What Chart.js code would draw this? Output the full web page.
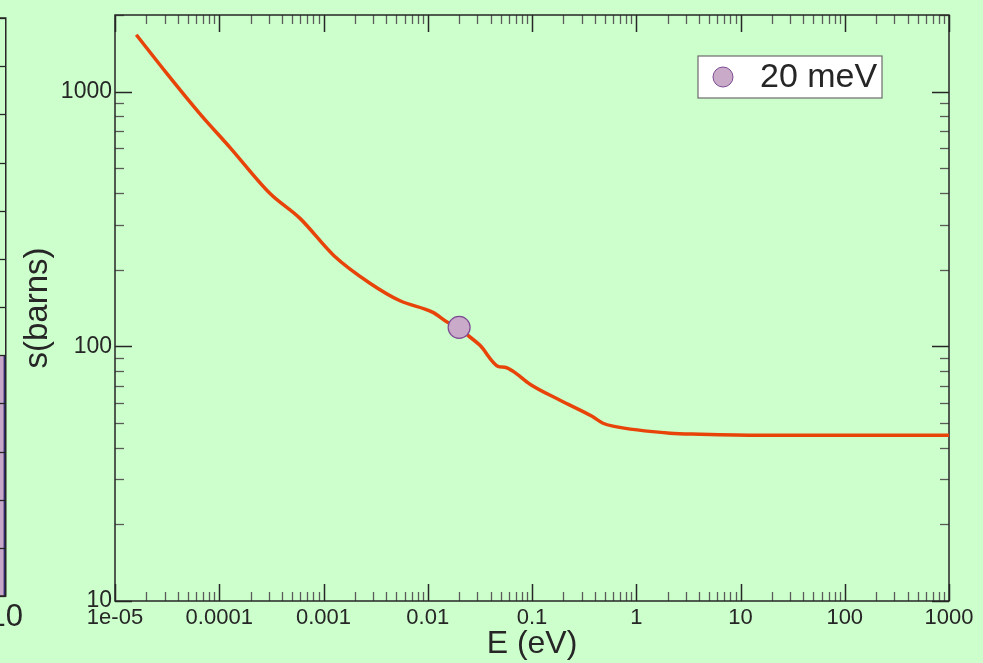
<!DOCTYPE html>
<html>
<head>
<meta charset="utf-8">
<script src="https://cdn.jsdelivr.net/npm/chart.js@4.4.1/dist/chart.umd.min.js"></script>
<style>
  html, body { margin: 0; padding: 0; background: #ccffcc; overflow: hidden; }
  #wrap { position: relative; width: 983px; height: 663px; overflow: hidden; }
  #main { position: absolute; left: 0; top: 0; }
  #side { position: absolute; left: -280px; top: 0; }
</style>
</head>
<body>
<div id="wrap">
  <canvas id="side" width="300" height="663"></canvas>
  <canvas id="main" width="983" height="663"></canvas>
</div>
<script>
// cross section vs energy
const energyEv = [1.6e-5, 3.15e-5, 6.5e-5, 1.27e-4, 3.07e-4, 5.95e-4, 1.26e-3, 2.79e-3, 5.42e-3,
  0.0112, 0.0156, 0.02, 0.0243, 0.0317, 0.0472, 0.0551, 0.0658, 0.0957, 0.186, 0.377, 0.48, 0.598,
  2.11, 4.09, 15.4, 1000];
const sigmaBarns = [1673, 1177, 820, 603, 398, 318, 227, 177, 151,
  136, 124, 118.7, 110.4, 100.9, 83.5, 82.7, 79.8, 71.0, 61.4, 53.1, 49.9, 48.6,
  45.6, 45.2, 44.8, 44.8];

// highlighted point
const markerEv = [0.02];
const markerBarns = [118.7];
const markerLabel = '20 meV';

const xMajors = [1e-5, 1e-4, 1e-3, 1e-2, 0.1, 1, 10, 100, 1000];
const xTickLabels = ['1e-05', '0.0001', '0.001', '0.01', '0.1', '1', '10', '100', '1000'];
const yMajors = [10, 100, 1000];
const yTickLabels = ['10', '100', '1000'];

// neighbouring panel, only its right edge is in frame
const sideBins = ['8-10'];
const sideCounts = [5];
const sideTicks = [0, 1, 2, 3, 4, 5, 6, 7, 8, 9, 10, 11, 12];

const FONT = '"Liberation Sans", Arial, Helvetica, sans-serif';
const INK = '#262626';

function logSteps(lo, hi) {
  const out = [];
  for (let k = Math.floor(Math.log10(lo)); k <= Math.ceil(Math.log10(hi)); k++) {
    for (let d = 1; d < 10; d++) {
      const v = d * Math.pow(10, k);
      if (v >= lo * 0.999 && v <= hi * 1.001) out.push(v);
    }
  }
  return out;
}
const isDecade = v => Math.abs(Math.log10(v) - Math.round(Math.log10(v))) < 1e-9;

// box + inward ticks on all four sides
const frameTicks = {
  id: 'frameTicks',
  beforeDatasetsDraw(chart) {
    const { ctx, chartArea: a, scales: { x, y } } = chart;
    ctx.save();
    const line = (x1, y1, x2, y2, major) => {
      ctx.strokeStyle = major ? INK : '#5a5a5a';
      ctx.lineWidth = major ? 1.5 : 1.3;
      ctx.beginPath(); ctx.moveTo(x1, y1); ctx.lineTo(x2, y2); ctx.stroke();
    };
    logSteps(x.min, x.max).forEach(v => {
      const px = Math.round(x.getPixelForValue(v)) + 0.5;
      const len = isDecade(v) ? 17 : 9;
      line(px, a.bottom, px, a.bottom - len, isDecade(v));
      line(px, a.top, px, a.top + len, isDecade(v));
    });
    logSteps(y.min, y.max).forEach(v => {
      const py = Math.round(y.getPixelForValue(v)) + 0.5;
      const len = isDecade(v) ? 17 : 9;
      line(a.left, py, a.left + len, py, isDecade(v));
      line(a.right, py, a.right - len, py, isDecade(v));
    });
    ctx.strokeStyle = INK;
    ctx.lineWidth = 1.5;
    ctx.strokeRect(a.left, a.top, a.right - a.left, a.bottom - a.top);
    ctx.restore();
  }
};

const markerKey = {
  id: 'markerKey',
  afterDraw(chart) {
    const { ctx, chartArea: a } = chart;
    const ds = chart.data.datasets[0];
    const bx = a.right - 251, by = a.top + 41, w = 184, h = 42;
    ctx.save();
    ctx.fillStyle = '#fff';
    ctx.fillRect(bx, by, w, h);
    ctx.strokeStyle = '#6b6b6b';
    ctx.lineWidth = 1.2;
    ctx.strokeRect(bx, by, w, h);
    ctx.beginPath();
    ctx.arc(bx + 25, by + h / 2, 10, 0, Math.PI * 2);
    ctx.fillStyle = ds.pointBackgroundColor;
    ctx.fill();
    ctx.strokeStyle = ds.pointBorderColor;
    ctx.lineWidth = 1;
    ctx.stroke();
    ctx.fillStyle = INK;
    ctx.font = '34px ' + FONT;
    ctx.textBaseline = 'middle';
    ctx.fillText(ds.label, bx + 62, by + h / 2 + 1);
    ctx.restore();
  }
};

new Chart(document.getElementById('main'), {
  type: 'line',
  data: {
    datasets: [
      {
        label: markerLabel, type: 'scatter', order: 0,
        data: markerEv.map((e, i) => ({ x: e, y: markerBarns[i] })),
        pointRadius: 11, pointBackgroundColor: '#c9abc9', pointBorderColor: '#7d4b93', pointBorderWidth: 1.2
      },
      {
        label: 'sigma', order: 1,
        data: energyEv.map((e, i) => ({ x: e, y: sigmaBarns[i] })),
        borderColor: '#e8440a', borderWidth: 3.5, pointRadius: 0,
        cubicInterpolationMode: 'monotone', fill: false
      }
    ]
  },
  options: {
    responsive: false, animation: false,
    layout: { padding: { left: 18, top: 15, right: 34, bottom: 0 } },
    plugins: { legend: { display: false }, tooltip: { enabled: false } },
    scales: {
      x: {
        type: 'logarithmic', min: 1e-5, max: 1000,
        grid: { display: false, drawTicks: false }, border: { display: false },
        afterBuildTicks: s => { s.ticks = xMajors.map(v => ({ value: v })); },
        afterFit: s => { s.height = 62; },
        ticks: { autoSkip: false, maxRotation: 0, padding: 4, color: INK,
          font: { family: FONT, size: 22 }, callback: (v, i) => xTickLabels[i] },
        title: { display: true, text: 'E (eV)', color: INK,
          font: { family: FONT, size: 32 }, padding: { top: 0, bottom: 0 } }
      },
      y: {
        type: 'logarithmic', min: 10, max: 2000,
        grid: { display: false, drawTicks: false }, border: { display: false },
        afterBuildTicks: s => { s.ticks = yMajors.map(v => ({ value: v })); },
        afterFit: s => { s.width = 97; s.paddingTop = 0; s.paddingBottom = 0; },
        ticks: { autoSkip: false, padding: 3, color: INK,
          font: { family: FONT, size: 23 }, callback: (v, i) => yTickLabels[i] },
        title: { display: true, text: 's(barns)', color: INK,
          font: { family: FONT, size: 33 }, padding: { top: 0, bottom: 0 } }
      }
    }
  },
  plugins: [frameTicks, markerKey]
});

// edge of the panel to the left
const sideFrame = {
  id: 'sideFrame',
  afterDatasetsDraw(chart) {
    const { ctx, chartArea: a, scales: { y } } = chart;
    ctx.save();
    ctx.strokeStyle = INK;
    ctx.lineWidth = 1.3;
    sideTicks.forEach(v => {
      const py = Math.round(y.getPixelForValue(v)) + 0.5;
      ctx.beginPath(); ctx.moveTo(a.right, py); ctx.lineTo(a.right - 9, py); ctx.stroke();
    });
    ctx.lineWidth = 1.5;
    ctx.strokeRect(a.left, a.top, a.right - a.left, a.bottom - a.top);
    ctx.restore();
  }
};

const side = document.getElementById('side');
const sideChart = new Chart(side, {
  type: 'bar',
  data: {
    labels: sideBins,
    datasets: [{
      data: sideCounts, xAxisID: 'bins',
      backgroundColor: '#c8a8c8', borderColor: '#2e2a6e',
      borderWidth: { right: 2.5 }, barPercentage: 1, categoryPercentage: 1
    }]
  },
  options: {
    responsive: false, animation: false,
    layout: { padding: { top: 18 } },
    plugins: { legend: { display: false }, tooltip: { enabled: false } },
    scales: {
      bins: { type: 'category', axis: 'x', display: false },
      x: {
        type: 'linear', axis: 'x', position: 'bottom', min: 8, max: 10, offset: false,
        grid: { display: false, drawTicks: false, offset: false }, border: { display: false },
        afterFit: s => { s.height = 67; },
        ticks: { stepSize: 2, autoSkip: false, maxRotation: 0, padding: 3, color: INK,
          font: { family: FONT, size: 31 } }
      },
      y: { min: 0, max: 12, display: false }
    }
  },
  plugins: [sideFrame]
});
side.style.left = (6 - sideChart.chartArea.right) + 'px';
</script>
</body>
</html>
